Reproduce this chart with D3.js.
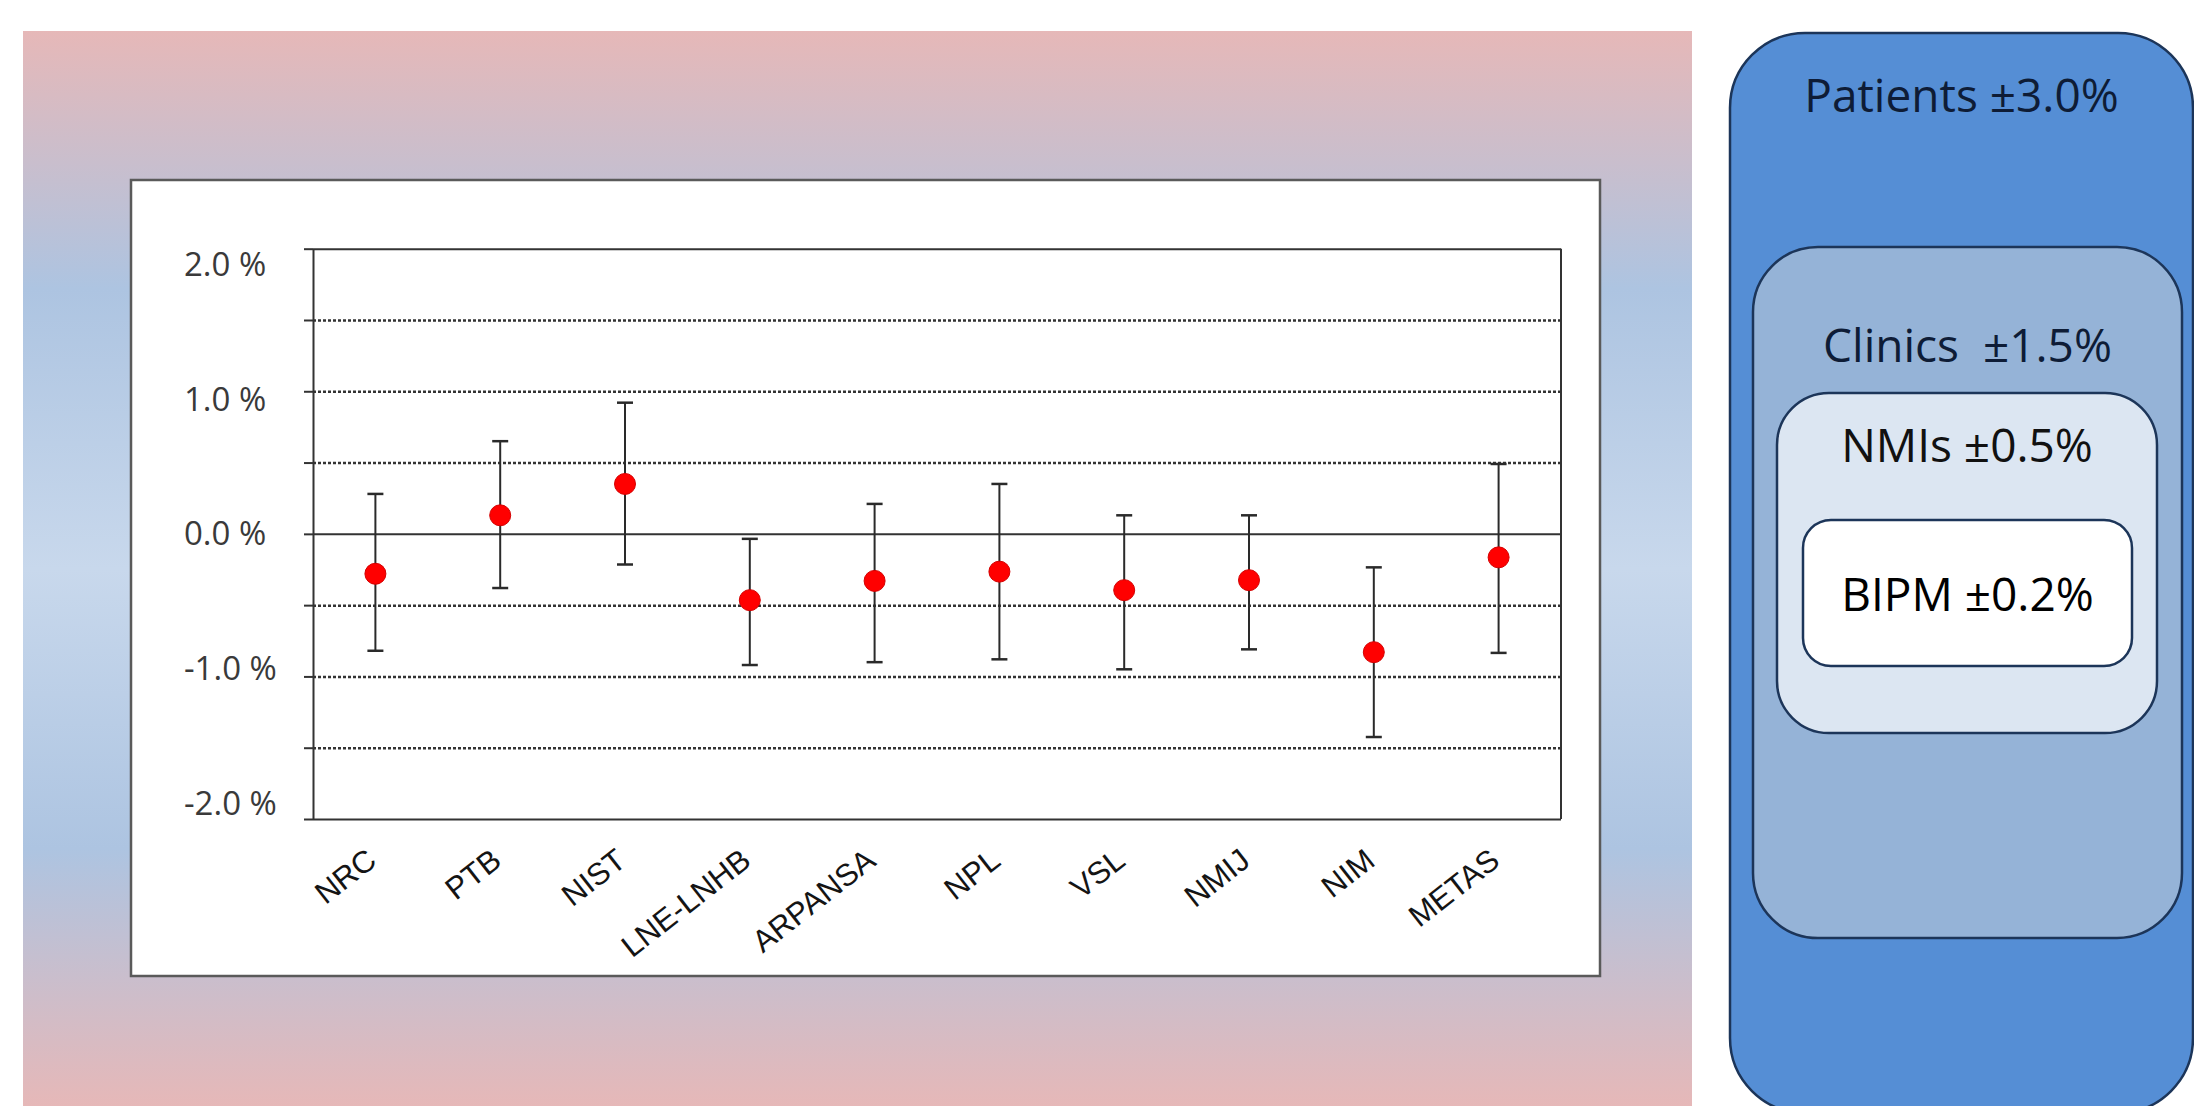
<!DOCTYPE html>

<head>
  <meta charset="utf-8">
  <title> Dose comparison </title>
  <script src="https://d3js.org/d3.v7.min.js"></script>
  <style type="text/css">
    body {margin: 0; background: #fff;}
    .tickLabel {font-family: 'Open Sans'; font-size: 33px; fill: #3a3a3a;}
    .catLabel {font-family: 'Liberation Sans'; font-size: 31px; fill: #141414; text-anchor: end;}
    .levelLabel {font-family: 'Open Sans'; font-size: 46px; text-anchor: middle;}
  </style>
</head>

<body>
  <div id="viz"></div>
</body>

<script type="text/javascript">

  //institutes and their deviation (%), with lower and upper end of the error bar
  const labs = ["NRC", "PTB", "NIST", "LNE-LNHB", "ARPANSA", "NPL", "VSL", "NMIJ", "NIM", "METAS"];
  const values = [-0.28, 0.13, 0.35, -0.465, -0.33, -0.265, -0.395, -0.325, -0.83, -0.165];
  const lower = [-0.82, -0.38, -0.215, -0.92, -0.90, -0.88, -0.95, -0.81, -1.425, -0.835];
  const upper = [0.28, 0.65, 0.92, -0.035, 0.21, 0.35, 0.13, 0.13, -0.235, 0.49];

  const yTicks = [-2, -1.5, -1, -0.5, 0, 0.5, 1, 1.5, 2];
  const yLabels = [-2, -1, 0, 1, 2];

  //nested boxes on the right
  const levels = ["Patients ±3.0%", "Clinics  ±1.5%", "NMIs ±0.5%", "BIPM ±0.2%"];

  const colorSet = {
    "pink": "#e6b8b8",
    "blue": "#adc4e1",
    "light": "#c8d8ec",
    "frame": "#5a5a5a",
    "grid": "#333",
    "dot": "#ff0000",
    "boxStroke": "#1c3559",
    "boxes": ["#558ed5", "#95b3d7", "#dce6f2", "#ffffff"],
    "boxText": ["#0e1c36", "#0e1c36", "#111", "#000"]
  };

  const FULLW = 2194;
  const FULLH = 1106;

  //plot area
  const PLOT = { left: 313, right: 1561, top: 248.7, bottom: 819 };
  const LABELANGLE = -38;

  const svg = d3.select("#viz")
    .append("svg")
    .attr("width", FULLW)
    .attr("height", FULLH);

  const defs = svg.append("defs");
  const grad = defs.append("linearGradient")
    .attr("id", "bgGrad")
    .attr("x1", 0).attr("y1", 0).attr("x2", 0).attr("y2", 1);
  [[0, colorSet.pink], [0.24, colorSet.blue], [0.5, colorSet.light], [0.76, colorSet.blue], [1, colorSet.pink]]
    .forEach(function (s) {
      grad.append("stop").attr("offset", s[0]).attr("stop-color", s[1]);
    });

  svg.append("rect")
    .attr("x", 23).attr("y", 31)
    .attr("width", 1669).attr("height", FULLH - 31)
    .attr("fill", "url(#bgGrad)");

  //white chart panel
  svg.append("rect")
    .attr("x", 131).attr("y", 180)
    .attr("width", 1469).attr("height", 796)
    .attr("fill", "#fff")
    .attr("stroke", colorSet.frame)
    .attr("stroke-width", 2.5);

  const x = d3.scaleBand().domain(labs).range([PLOT.left, PLOT.right]);
  const y = d3.scaleLinear().domain([-2, 2]).range([PLOT.bottom, PLOT.top]);
  //the percent labels sit a little off the grid in the original
  const yLab = d3.scaleLinear().domain([-2, 2]).range([802.6, 264]);

  const plotW = PLOT.right - PLOT.left;

  //gridlines
  const grid = svg.append("g")
    .attr("transform", "translate(" + PLOT.left + ",0)")
    .call(d3.axisLeft(y).tickValues(yTicks).tickSize(-plotW).tickFormat(""));
  grid.select(".domain").remove();
  grid.selectAll(".tick line")
    .attr("stroke", colorSet.grid)
    .attr("stroke-width", function (d) { return (d === 0 || Math.abs(d) === 2) ? 2 : 2.5; })
    .attr("stroke-dasharray", function (d) { return (d === 0 || Math.abs(d) === 2) ? null : "3,2"; });

  //small outward ticks + left axis line
  const yAxis = svg.append("g")
    .attr("transform", "translate(" + PLOT.left + ",0)")
    .call(d3.axisLeft(y).tickValues(yTicks).tickSize(9).tickSizeOuter(0).tickFormat(""));
  yAxis.selectAll("line, path")
    .attr("stroke", colorSet.grid)
    .attr("stroke-width", 2);

  //right border
  svg.append("line")
    .attr("x1", PLOT.right).attr("x2", PLOT.right)
    .attr("y1", y(2)).attr("y2", y(-2))
    .attr("stroke", colorSet.grid)
    .attr("stroke-width", 2);

  svg.selectAll(".tickLabel")
    .data(yLabels)
    .enter()
    .append("text")
    .classed("tickLabel", true)
    .attr("x", 184)
    .attr("y", function (d) { return yLab(d) + 12; })
    .text(function (d) { return d3.format(".1f")(d).replace("−", "-") + " %"; });

  //category labels
  svg.selectAll(".catLabel")
    .data(labs)
    .enter()
    .append("text")
    .classed("catLabel", true)
    .attr("transform", function (d) {
      return "translate(" + (x(d) + x.bandwidth() / 2 + 3) + "," + 864 + ") rotate(" + LABELANGLE + ")";
    })
    .text(function (d) { return d; });

  //error bars
  const CAPW = 8;
  const bars = svg.append("g")
    .selectAll("g")
    .data(labs)
    .enter()
    .append("g")
    .attr("transform", function (d) { return "translate(" + (x(d) + x.bandwidth() / 2) + ",0)"; });

  bars.append("line")
    .attr("y1", function (d, i) { return y(lower[i]); })
    .attr("y2", function (d, i) { return y(upper[i]); })
    .attr("stroke", "#2a2a2a")
    .attr("stroke-width", 2);

  bars.append("line")
    .attr("x1", -CAPW).attr("x2", CAPW)
    .attr("y1", function (d, i) { return y(upper[i]); })
    .attr("y2", function (d, i) { return y(upper[i]); })
    .attr("stroke", "#2a2a2a")
    .attr("stroke-width", 2.5);

  bars.append("line")
    .attr("x1", -CAPW).attr("x2", CAPW)
    .attr("y1", function (d, i) { return y(lower[i]); })
    .attr("y2", function (d, i) { return y(lower[i]); })
    .attr("stroke", "#2a2a2a")
    .attr("stroke-width", 2.5);

  bars.append("circle")
    .attr("cy", function (d, i) { return y(values[i]); })
    .attr("r", 10.5)
    .attr("fill", colorSet.dot)
    .attr("stroke", "#d40000")
    .attr("stroke-width", 1);

  //nested uncertainty boxes
  const boxes = [
    { x: 1730, y: 33, w: 463, h: 1080, r: 75, ty: 112 },
    { x: 1753, y: 247, w: 429, h: 691, r: 65, ty: 362 },
    { x: 1777, y: 393, w: 380, h: 340, r: 52, ty: 462 },
    { x: 1803, y: 520, w: 329, h: 146, r: 28, ty: 611 }
  ];

  boxes.forEach(function (b, i) {
    svg.append("rect")
      .attr("x", b.x).attr("y", b.y)
      .attr("width", b.w).attr("height", b.h)
      .attr("rx", b.r).attr("ry", b.r)
      .attr("fill", colorSet.boxes[i])
      .attr("stroke", colorSet.boxStroke)
      .attr("stroke-width", 2.5);
  });

  boxes.forEach(function (b, i) {
    svg.append("text")
      .classed("levelLabel", true)
      .attr("x", b.x + b.w / 2)
      .attr("y", b.ty)
      .attr("fill", colorSet.boxText[i])
      .attr("xml:space", "preserve")
      .style("white-space", "pre")
      .text(levels[i]);
  });

</script>

</html>
